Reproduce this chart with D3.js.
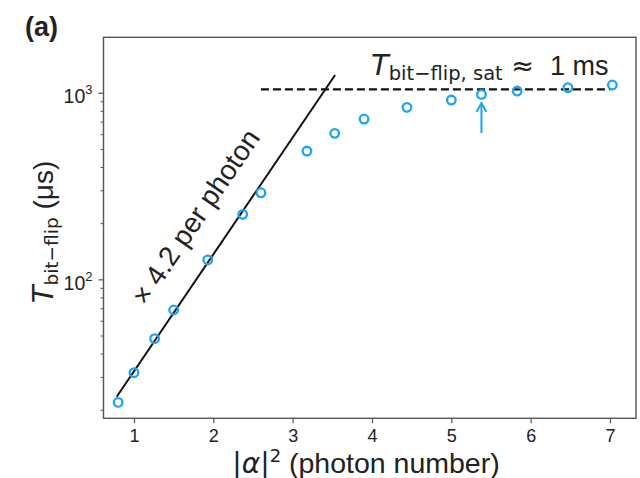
<!DOCTYPE html>
<html><head><meta charset="utf-8">
<script src="https://cdn.jsdelivr.net/npm/d3@7"></script>
<style>body{margin:0;background:#fff} text{font-family:"Liberation Sans",Arial,sans-serif;fill:#222}</style>
</head><body><svg id="c" width="640" height="478"></svg>
<script>
// ---- data ----
const photonNumber = [0.80, 1.00, 1.26, 1.50, 1.93, 2.37, 2.60, 3.18, 3.53, 3.90, 4.44, 5.00, 5.38, 5.83, 6.47, 7.03];
const tBitFlip     = [21.9, 31.6, 48.1, 68.5, 127, 223, 291, 487, 606, 723, 835, 914, 980, 1021, 1064, 1100];
const fitX = [0.782, 3.535];
const fitY = [23.5, 1245];
const satX = [2.60, 7.0];
const satY = [1043, 1043];
const arrowX = [5.38, 5.38];
const arrowY = [608, 880];
const xTicks = [1, 2, 3, 4, 5, 6, 7];
const yMajor = [100, 1000];
const yMajorExp = ["2", "3"];
const yMinor = [20, 30, 40, 50, 60, 70, 80, 90, 200, 300, 400, 500, 600, 700, 800, 900];
const xDomain = [0.6155, 7.328];
const yDomain = [18.0, 1982];
const slopeLabel = "× 4.2 per photon";
const slopeLabelAt = [1.15, 71];

const svg = d3.select("#c");
const m = {l: 103.5, r: 636, t: 37.3, b: 418.3};
const x = d3.scaleLinear().domain(xDomain).range([m.l, m.r]);
const y = d3.scaleLog().domain(yDomain).range([m.b, m.t]);
const blue = "#1ea4ef";

// x axis
const gx = svg.append("g").attr("transform", `translate(0,${m.b})`)
  .call(d3.axisBottom(x).tickValues(xTicks).tickSize(5).tickPadding(6).tickFormat(d3.format("d")));
gx.select(".domain").remove();
gx.selectAll(".tick line").attr("stroke", "#555").attr("stroke-width", 1.2);
gx.selectAll(".tick text").style("font-size", "18px").attr("fill", "#222");

// y axis minor
const gyMin = svg.append("g").attr("transform", `translate(${m.l},0)`)
  .call(d3.axisLeft(y).tickValues(yMinor).tickSize(3).tickFormat(""));
gyMin.select(".domain").remove();
gyMin.selectAll(".tick line").attr("stroke", "#555").attr("stroke-width", 1);

// y axis major
const gy = svg.append("g").attr("transform", `translate(${m.l},0)`)
  .call(d3.axisLeft(y).tickValues(yMajor).tickSize(5).tickPadding(6).tickFormat(""));
gy.select(".domain").remove();
gy.selectAll(".tick line").attr("stroke", "#555").attr("stroke-width", 1.2);
gy.selectAll(".tick text").each(function(d, i) {
  const t = d3.select(this).attr("dy", null).attr("y", 10).attr("x", -11);
  t.append("tspan").text("10").style("font-size", "19.5px");
  t.append("tspan").text(yMajorExp[i]).style("font-size", "13px").attr("dy", -9);
});

// frame
svg.append("rect").attr("x", m.l).attr("y", m.t).attr("width", m.r - m.l).attr("height", m.b - m.t)
  .attr("fill", "none").attr("stroke", "#555").attr("stroke-width", 1.4);

// fit line
const line = d3.line().x(d => x(d[0])).y(d => y(d[1]));
svg.append("path").datum(d3.zip(fitX, fitY)).attr("d", line)
  .attr("stroke", "#111").attr("stroke-width", 2).attr("fill", "none");
// saturation dashed line
svg.append("path").datum(d3.zip(satX, satY)).attr("d", line)
  .attr("stroke", "#111").attr("stroke-width", 2.2).attr("stroke-dasharray", "8,4").attr("fill", "none");

// data points
svg.append("g").selectAll("circle").data(d3.zip(photonNumber, tBitFlip)).join("circle")
  .attr("cx", d => x(d[0])).attr("cy", d => y(d[1])).attr("r", 4.3)
  .attr("fill", "none").attr("stroke", blue).attr("stroke-width", 2.3);

// arrow
const ax0 = x(arrowX[0]), ay0 = y(arrowY[0]), ay1 = y(arrowY[1]);
svg.append("line").attr("x1", ax0).attr("y1", ay0).attr("x2", ax0).attr("y2", ay1 + 1)
  .attr("stroke", blue).attr("stroke-width", 2);
svg.append("path").attr("d", `M${ax0 - 5},${ay1 + 9}L${ax0},${ay1}L${ax0 + 5},${ay1 + 9}`)
  .attr("stroke", blue).attr("stroke-width", 2).attr("fill", "none");

// slope label
const ang = Math.atan2(y(fitY[1]) - y(fitY[0]), x(fitX[1]) - x(fitX[0])) * 180 / Math.PI;
svg.append("text").attr("transform", `translate(${x(slopeLabelAt[0])},${y(slopeLabelAt[1])}) rotate(${ang})`)
  .style("font-size", "28px").attr("fill", "#111").text(slopeLabel);

// saturation label
const st = svg.append("text").attr("x", 371).attr("y", 75).attr("fill", "#111");
st.append("tspan").text("T").style("font-family", "DejaVu Sans").style("font-style", "italic").style("font-size", "29px");
st.append("tspan").text("bit−flip, sat").style("font-family", "DejaVu Sans").style("font-size", "19.5px").attr("dy", 5);
st.append("tspan").text(" ≈").style("font-family", "DejaVu Sans").style("font-size", "27px").attr("dy", -5);
st.append("tspan").text("1 ms").style("font-size", "27px").attr("dx", 16);

// x label
const xl = svg.append("text").attr("x", 366).attr("y", 472.5).attr("text-anchor", "middle").attr("fill", "#222");
xl.append("tspan").text("|").style("font-family", "DejaVu Sans").style("font-size", "28px");
xl.append("tspan").text("α").style("font-family", "DejaVu Sans").style("font-style", "italic").style("font-size", "28px");
xl.append("tspan").text("|").style("font-family", "DejaVu Sans").style("font-size", "28px");
xl.append("tspan").text("2").style("font-family", "DejaVu Sans").style("font-size", "18px").attr("dy", -11);
xl.append("tspan").text(" (photon number)").style("font-size", "28.5px").attr("dy", 11);

// y label
const yl = svg.append("text").attr("transform", "translate(53,232) rotate(-90)").attr("text-anchor", "middle").attr("fill", "#222");
yl.append("tspan").text("T").style("font-family", "DejaVu Sans").style("font-style", "italic").style("font-size", "29px");
yl.append("tspan").text("bit−flip").style("font-family", "DejaVu Sans").style("font-size", "18.5px").attr("dy", 5);
yl.append("tspan").text(" (μs)").style("font-size", "28px").attr("dy", -5);

// panel label
svg.append("text").attr("x", 25).attr("y", 36).style("font-size", "27px").style("font-weight", "bold").attr("fill", "#222").text("(a)");
</script></body></html>
